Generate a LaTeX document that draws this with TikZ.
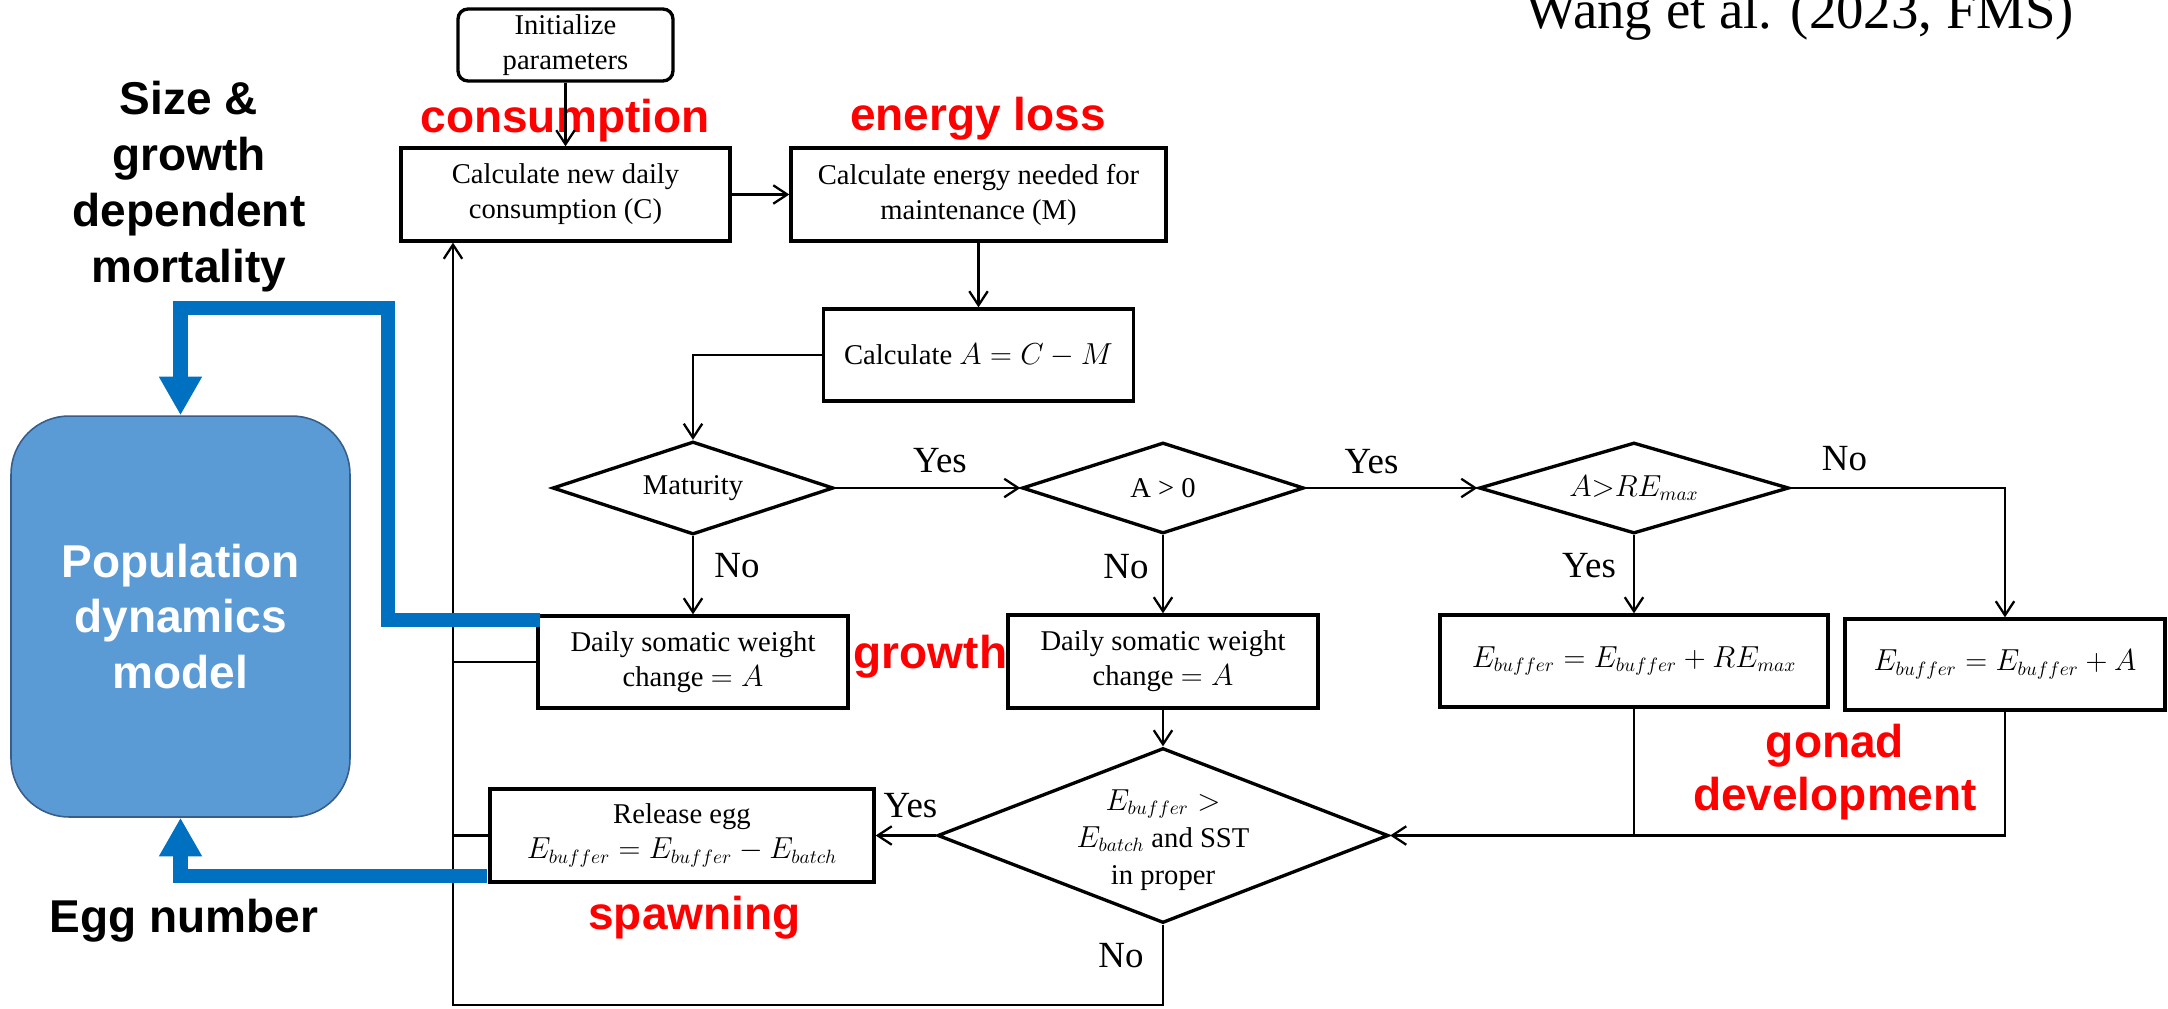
\documentclass[tikz,border=0pt]{standalone}
\usepackage{fontspec}
\setmainfont{Liberation Serif}
\newfontfamily\arialf{Liberation Sans}
\usetikzlibrary{arrows.meta,shapes.geometric,calc}
\definecolor{bluel}{HTML}{0070C0}
\definecolor{popfill}{HTML}{5B9BD5}
\definecolor{popdraw}{HTML}{385D8A}
\definecolor{redl}{HTML}{FF0000}
\begin{document}
\begin{tikzpicture}[x=0.02cm,y=-0.02cm,
  box/.style={draw, line width=1.9pt, rectangle, inner sep=0pt, align=center, font=\fontsize{16.3}{19.9}\selectfont},
  dia/.style={draw, line width=1.9pt, diamond, aspect=3, inner sep=0pt, font=\fontsize{16.3}{19.9}\selectfont},
  conn/.style={line width=1.3pt, -{Straight Barb[length=8pt,width=10.5pt]}},
  plainc/.style={line width=1.3pt},
  yn/.style={anchor=base, inner sep=0pt, font=\fontsize{21}{24}\selectfont},
  redlab/.style={anchor=base, inner sep=0pt, text=redl, font=\arialf\bfseries\fontsize{26.2}{30.2}\selectfont},
  blk/.style={inner sep=0pt, align=center, font=\arialf\bfseries\fontsize{26.2}{32}\selectfont},
  bluec/.style={draw=bluel, line width=8.25pt, line join=miter, -{Triangle[length=22pt,width=23pt]}},
]
\fill[white] (0,0) rectangle (2168,1008);
\useasboundingbox (0,0) rectangle (2168,1008);
\clip (0,0) rectangle (2168,1008);

% citation
\node[anchor=base, inner sep=0pt, font=\fontsize{31.2}{36}\selectfont] (cite) at (1800,28) {Wang et al. (2023, FMS)};

% red labels
\node[redlab] (lcons) at (565,132) {consumption};
\node[redlab] (lloss) at (978,130) {energy loss};
\node[redlab] (lgrowth) at (930.5,668) {growth};
\node[redlab] (lspawn) at (694.5,929) {spawning};
\node[inner sep=0pt, align=center, text=redl, font=\arialf\bfseries\fontsize{26.2}{30.2}\selectfont] (lgonad) at (1835,772) {gonad\\development};

% black labels
\node[blk] (mort) at (189,186.5) {Size \&\\growth\\dependent\\mortality};
\node[blk, anchor=base] (egg) at (184,932) {Egg number};

% population model
\node[draw=popdraw, line width=0.9pt, fill=popfill, rounded corners=1.16cm, minimum width=6.78cm, minimum height=8.02cm, inner sep=0pt, align=center, text=white, font=\arialf\bfseries\fontsize{26.2}{31.6}\selectfont] (pop) at (180.5,616.5) {Population\\dynamics\\model};

% flowchart boxes
\node[box, rounded corners=0.2cm, minimum width=4.3cm, minimum height=1.44cm] (init) at (565.5,45) {Initialize\\parameters};
\node[box, minimum width=6.58cm, minimum height=1.86cm] (cons) at (565.5,194.5) {Calculate new daily\\consumption (C)};
\node[box, minimum width=7.5cm, minimum height=1.86cm] (energy) at (978.5,194.5) {Calculate energy needed for\\maintenance (M)};
\node[box, minimum width=6.2cm, minimum height=1.84cm] (abox) at (978.5,355) {Calculate $A=C-M$};
\node[dia, minimum width=5.62cm, minimum height=1.86cm] (mat) at (693,488) {Maturity};
\node[dia, minimum width=5.64cm, minimum height=1.82cm] (a0) at (1163,488) {A > 0};
\node[dia, minimum width=6.2cm, minimum height=1.82cm] (are) at (1634,488) {$A{>}RE_{max}$};
\node[box, minimum width=6.2cm, minimum height=1.84cm] (dsw1) at (693,662) {Daily somatic weight\\change $=A$};
\node[box, minimum width=6.2cm, minimum height=1.86cm] (dsw2) at (1163,661.5) {Daily somatic weight\\change $=A$};
\node[box, minimum width=7.76cm, minimum height=1.84cm] (erem) at (1634,661) {$E_{buffer}=E_{buffer}+RE_{max}$};
\node[box, minimum width=6.4cm, minimum height=1.82cm] (ea) at (2005,664.5) {$E_{buffer}=E_{buffer}+A$};
\node[dia, minimum width=9.02cm, minimum height=3.5cm] (bd) at (1163,835.5) {};
\node[inner sep=0pt, align=center, font=\fontsize{16.3}{21}\selectfont] (bdt) at (1163,840) {$E_{buffer}>$\\$E_{batch}$ and SST\\in proper};
\node[box, minimum width=7.68cm, minimum height=1.86cm] (rel) at (682,835.5) {Release egg\\$E_{buffer}=E_{buffer}-E_{batch}$};

% Yes / No labels
\node[yn] (y1) at (940,472) {Yes};
\node[yn] (y2) at (1371.5,473) {Yes};
\node[yn] (n3) at (1844.5,470) {No};
\node[yn] (n1) at (737,577) {No};
\node[yn] (n2) at (1126,578) {No};
\node[yn] (y3) at (1589,577) {Yes};
\node[yn] (y4) at (910.5,817) {Yes};
\node[yn] (n4) at (1121,967) {No};

% connectors
\coordinate (lc) at (453,1005);
\draw[conn] (init.south) -- (cons.north);
\draw[conn] (cons.east) -- (energy.west);
\draw[conn] (energy.south) -- (abox.north);
\draw[conn] (abox.west) -| (mat.north);
\draw[conn] (mat.east) -- (a0.west);
\draw[conn] (a0.east) -- (are.west);
\draw[conn] (are.east) -| (ea.north);
\draw[conn] (mat.south) -- (dsw1.north);
\draw[conn] (a0.south) -- (dsw2.north);
\draw[conn] (are.south) -- (erem.north);
\draw[conn] (dsw2.south) -- (bd.north);
\draw[conn] (ea.south) |- (bd.east);
\draw[plainc] (erem.south) -- (erem.south |- bd.east);
\draw[conn] (bd.west) -- (rel.east);
\draw[conn] (bd.south) |- (lc) -- (lc |- cons.south);
\draw[plainc] (dsw1.west) -- (dsw1.west -| lc);
\draw[plainc] (rel.west) -- (rel.west -| lc);

% blue feedback connectors
\coordinate (m0) at (540,620);
\coordinate (m1) at (388,308);
\coordinate (e0) at (487,876);
\draw[bluec] (m0) -| (m1) -| (pop.north);
\draw[bluec] (e0) -| (pop.south);
\end{tikzpicture}
\end{document}
